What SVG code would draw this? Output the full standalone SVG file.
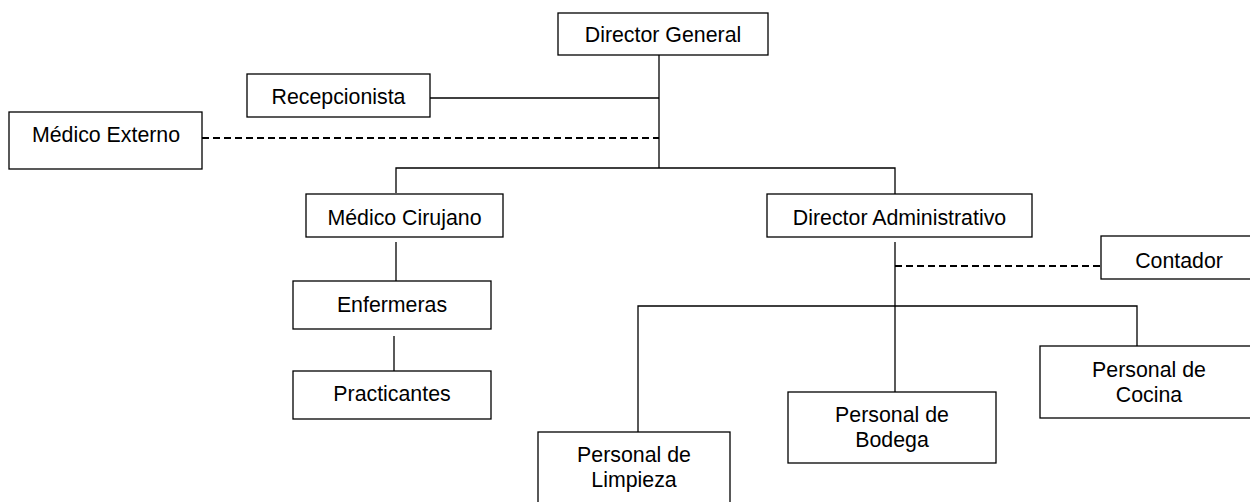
<svg xmlns="http://www.w3.org/2000/svg" width="1250" height="502" viewBox="0 0 1250 502">
<style>
.box{fill:#fff;stroke:#000;stroke-width:1.3}
.ln{fill:none;stroke:#000;stroke-width:1.3}
.dash{fill:none;stroke:#000;stroke-width:2;stroke-dasharray:7 4}
text{font-family:"Liberation Sans",Arial,sans-serif;font-size:21.33px;fill:#000;text-anchor:middle}
</style>
<rect width="1250" height="502" fill="#fff"/>
<g id="connectors">
<path class="ln" d="M659 55 V168"/>
<path class="ln" d="M430 98 H659"/>
<path class="dash" d="M202 138 H659"/>
<path class="ln" d="M396 193 V168 H895 V194"/>
<path class="ln" d="M396 242 V281"/>
<path class="ln" d="M394 336 V371"/>
<path class="ln" d="M895 242 V392"/>
<path class="dash" d="M895 266 H1101"/>
<path class="ln" d="M638 432 V306 H1137 V346"/>
</g>
<g id="director-general"><rect class="box" x="558" y="13" width="210" height="42"/><text x="663" y="42">Director General</text></g>
<g id="recepcionista"><rect class="box" x="247" y="74" width="183" height="43"/><text x="338.5" y="104">Recepcionista</text></g>
<g id="medico-externo"><rect class="box" x="9" y="112" width="193" height="57"/><text x="106" y="142">Médico Externo</text></g>
<g id="medico-cirujano"><rect class="box" x="306" y="194" width="197" height="43"/><text x="404.5" y="225">Médico Cirujano</text></g>
<g id="enfermeras"><rect class="box" x="293" y="281" width="198" height="48"/><text x="392" y="312">Enfermeras</text></g>
<g id="practicantes"><rect class="box" x="293" y="371" width="198" height="48"/><text x="392" y="401">Practicantes</text></g>
<g id="director-administrativo"><rect class="box" x="767" y="194" width="265" height="43"/><text x="899.5" y="225">Director Administrativo</text></g>
<g id="contador"><rect class="box" x="1101" y="236" width="157" height="43"/><text x="1179" y="268">Contador</text></g>
<g id="personal-cocina"><rect class="box" x="1040" y="346" width="218" height="72"/><text x="1149" y="377">Personal de</text><text x="1149" y="402">Cocina</text></g>
<g id="personal-bodega"><rect class="box" x="788" y="392" width="208" height="71"/><text x="892" y="422">Personal de</text><text x="892" y="447">Bodega</text></g>
<g id="personal-limpieza"><rect class="box" x="538" y="432" width="192" height="80"/><text x="634" y="462">Personal de</text><text x="634" y="487">Limpieza</text></g>
</svg>
